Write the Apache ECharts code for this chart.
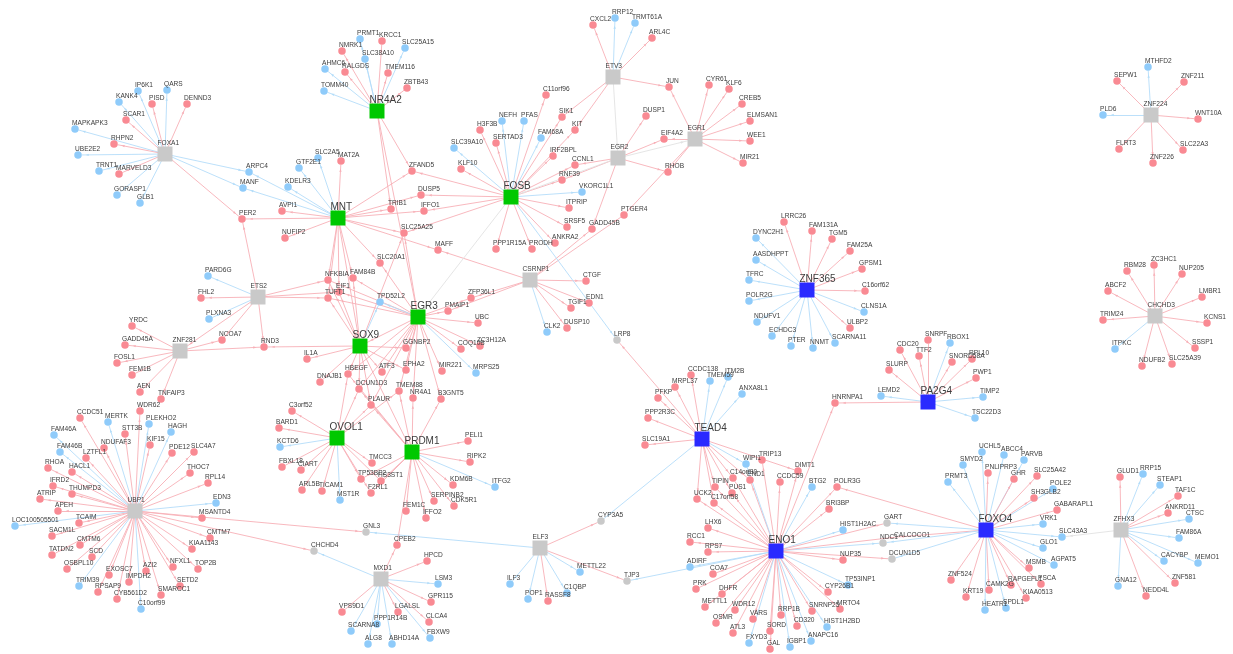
<!DOCTYPE html>
<html><head><meta charset="utf-8">
<style>html,body{margin:0;background:#fff}#c{width:1233px;height:654px;filter:blur(.4px)}</style>
<script src="https://cdn.jsdelivr.net/npm/echarts@6/dist/echarts.min.js"></script>
</head><body><div id="c"></div>
<script>
// hubs
const greenHubs=['NR4A2','MNT','FOSB','EGR3','SOX9','OVOL1','PRDM1'];
const blueHubs=['ZNF365','TEAD4','PA2G4','ENO1','FOXO4'];
const greyHubs=['FOXA1','ETV3','EGR2','EGR1','ETS2','CSRNP1','ZNF281','UBP1','MXD1','ELF3','ZFHX3','ZNF224','CHCHD3'];
const linkers=['GNL3','CHCHD4','CYP3A5','TJP3','LRP8','GART','NDC1','DCUN1D5'];
// gene targets: down = blue dot, everything else in the target lists = red dot
const downGenes=['IP6K1','QARS','KANK4','MAPKAPK3','UBE2E2','TRNT1','GORASP1','GLB1','ARPC4','MANF','SLC2A5','GTF2E1','KDELR3','PRMT1','SLC25A15','SLC38A10','AHMC6','TOMM40','TPD52L2','PARD6G','PLXNA3','NEFH','PFAS','FAM68A','SLC39A10','VKORC1L1','CLK2','RRP12','TRMT61A','MTHFD2','PLD6','DYNC2H1','AASDHPPT','TFRC','POLR2G','NDUFV1','ECHDC3','PTER','NNMT','SCARNA11','CLNS1A','ITPKC','RBOX1','TIMP2','TSC22D3','LEMD2','UCHL5','ABCC4','PARVB','SMYD2','PRMT3','POLE2','VRK1','SLC43A3','GLO1','AGPAT5','HEATR1','SPDL1','RRP15','STEAP1','CTSC','FAM86A','CACYBP','MEMO1','GNA12','TMEM59','ITM2B','ANXA8L1','WIPI1','BTG2','HIST1H2AC','ADIRF','FXYD3','IGBP1','ANAPC16','HIST1H2BD','TP53INP1','METTL22','ILF3','POP1','C1QBP','LSM3','FBXW9','ABHD14A','PPP1R14B','ALG8','SCARNA8','ITFG2','MST1R','KCTD6','MRPS25','MERTK','PLEKHO2','HAGH','FAM46A','FAM46B','EDN3','LOC100505501','TRIM39','C10orf99'];
const hiddenDot=['CALCOCO1'];
// regulon membership
const regulons={
FOXA1:['IP6K1','QARS','DENND3','PISD','KANK4','SCAR1','MAPKAPK3','RHPN2','UBE2E2','TRNT1','MARVELD3','GORASP1','GLB1','ARPC4','MANF','PER2'],
NR4A2:['PRMT1','KRCC1','NMRK1','SLC25A15','SLC38A10','AHMC6','RALGDS','TMEM116','ZBTB43','TOMM40','ZFAND5','TRIB1','EGR3'],
MNT:['ARPC4','MANF','KDELR3','GTF2E1','SLC2A5','MAT2A','AVPI1','PER2','NUFIP2','ZFAND5','TRIB1','DUSP5','IFFO1','SLC25A25','MAFF','SLC20A1','NFKBIA','FAM84B','EIF1','TUFT1','SOX9'],
FOSB:['C11orf96','SIK1','KIT','NEFH','PFAS','H3F3B','SERTAD3','FAM68A','IRF2BPL','SLC39A10','KLF10','ZFAND5','DUSP5','IFFO1','SLC25A25','VKORC1L1','ITPRIP','SRSF5','ANKRA2','PRODH','PPP1R15A','CCNL1','RNF39'],
ETV3:['CXCL2','RRP12','TRMT61A','ARL4C','JUN','SIK1','KIT'],
EGR2:['DUSP1','EIF4A2','RHOB','CCNL1','RNF39','GADD45B'],
EGR1:['JUN','CYR61','KLF6','CREB5','ELMSAN1','WEE1','MIR21','EIF4A2','RHOB','PTGER4'],
CSRNP1:['MAFF','CTGF','EDN1','TGIF1','DUSP10','CLK2','ZFP36L1','PMAIP1','GADD45B','PTGER4'],
ETS2:['PARD6G','FHL2','PLXNA3','PER2','NFKBIA','EIF1','TUFT1','RND3','NCOA7','ZNF281'],
ZNF281:['YRDC','GADD45A','FOSL1','FEM1B','AEN','TNFAIP3','NCOA7','RND3'],
EGR3:['NFKBIA','EIF1','TUFT1','FAM84B','SLC20A1','SLC25A25','TPD52L2','ZFP36L1','PMAIP1','UBC','COQ10B','ZC3H12A','MRPS25','MIR221','B3GNT5','NR4A1','EPHA2','GGNBP2','ATF3','DCUN1D3','HBEGF','PLAUR','TMEM88','SOX9'],
SOX9:['RND3','IL1A','DNAJB1','HBEGF','ATF3','GGNBP2','EPHA2','NFKBIA','TUFT1','EIF1','FAM84B','TPD52L2','SLC25A25','DCUN1D3','PLAUR','PRDM1'],
OVOL1:['C3orf52','BARD1','KCTD6','FBXL18','CIART','ARL5B','TICAM1','MST1R','TMCC3','TP53BP2','HS3ST1','F2RL1','HBEGF','DCUN1D3','PLAUR','TMEM88'],
PRDM1:['PLAUR','TMEM88','NR4A1','B3GNT5','PELI1','RIPK2','KDM6B','ITFG2','SERPINB2','CDK5R1','FEM1C','IFFO2','HS3ST1','TP53BP2','F2RL1','CPEB2','DCUN1D3','HBEGF'],
UBP1:['WDR62','CCDC51','MERTK','PLEKHO2','HAGH','STT3B','FAM46A','KIF15','NDUFAF3','FAM46B','LZTFL1','PDE12','SLC4A7','RHOA','HACL1','THOC7','RPL14','IFRD2','ATRIP','THUMPD3','EDN3','APEH','MSANTD4','TCAIM','LOC100505501','SACM1L','CMTM7','CMTM6','KIAA1143','TATDN2','SCD','OSBPL10','NFXL1','TOP2B','EXOSC7','AZI2','IMPDH2','SETD2','TRIM39','RPSAP9','SMARCC1','CYB561D2','C10orf99'],
MXD1:['CPEB2','HPCD','LSM3','GPR115','LGALSL','CLCA4','FBXW9','ABHD14A','PPP1R14B','ALG8','SCARNA8','VPS9D1'],
ELF3:['METTL22','ILF3','POP1','RASSF8','C1QBP'],
TEAD4:['SLC19A1','PPP2R3C','PFKP','MRPL37','CCDC138','TMEM59','ITM2B','ANXA8L1','WIPI1','DIMT1','C14orf80','END1','TIPIN','PUS1','UCK2','C17orf58'],
ENO1:['TRIP13','CCDC59','DIMT1','BTG2','POLR3G','HNRNPA1','BRI3BP','HIST1H2AC','NUP35','C14orf80','END1','WIPI1','PUS1','TIPIN','UCK2','C17orf58','LHX6','RCC1','RPS7','ADIRF','COA7','PRK','DHFR','METTL1','WDR12','OSMR','VARS','ATL3','RRP1B','SORD','CD320','FXYD3','GAL','IGBP1','ANAPC16','HIST1H2BD','SNRNP25','MRTO4','CYP26B1','TP53INP1'],
PA2G4:['HNRNPA1','LEMD2','SLURP','CDC20','TTF2','SNRPF','RBOX1','SNORD58A','RPL10','PWP1','TIMP2','TSC22D3'],
ZNF365:['LRRC26','FAM131A','TGM5','FAM25A','GPSM1','C16orf62','CLNS1A','ULBP2','SCARNA11','NNMT','PTER','ECHDC3','NDUFV1','POLR2G','TFRC','AASDHPPT','DYNC2H1'],
FOXO4:['UCHL5','ABCC4','PARVB','SMYD2','PRMT3','PNLIPRP3','GHR','SLC25A42','POLE2','SH3GLB2','GABARAPL1','VRK1','SLC43A3','GLO1','AGPAT5','MSMB','PSCA','RAPGEFL1','CAMK2G','ZNF524','KRT19','KIAA0513','HEATR1','SPDL1','POLR3G','CALCOCO1'],
ZFHX3:['GLUD1','RRP15','STEAP1','TAF1C','ANKRD11','CTSC','FAM86A','CACYBP','MEMO1','ZNF581','NEDD4L','GNA12'],
ZNF224:['MTHFD2','SEPW1','ZNF211','PLD6','WNT10A','FLRT3','SLC22A3','ZNF226'],
CHCHD3:['ZC3HC1','RBM28','NUP205','ABCF2','LMBR1','TRIM24','KCNS1','SSSP1','SLC25A39','NDUFB2','ITPKC']
};
// links whose sign differs from the target's dot colour: [source,target,sign]
const signedLinks=[['ETV3','EGR2',0],['EGR2','EGR1',0],['EGR2','FOSB',0],['FOSB','EGR3',0],['FOSB','LRP8',-1],['TEAD4','LRP8',1],['TEAD4','CYP3A5',-1],['ELF3','CYP3A5',1],['UBP1','GNL3',1],['ELF3','GNL3',-1],['UBP1','CHCHD4',1],['MXD1','CHCHD4',-1],['ELF3','TJP3',1],['ENO1','TJP3',-1],['ENO1','GART',1],['FOXO4','GART',-1],['ENO1','NDC1',-1],['FOXO4','NDC1',-1],['ENO1','DCUN1D5',1],['FOXO4','DCUN1D5',-1],['ZFHX3','SLC43A3',0],['ENO1','CALCOCO1',1]];
// read-off network layout, in picture coordinates
const layout={FOXA1:[165,154],IP6K1:[138,91],QARS:[167,90],DENND3:[187,104],PISD:[152,104],KANK4:[119,102],SCAR1:[126,120],MAPKAPK3:[75,129],RHPN2:[114,144],UBE2E2:[78,155],TRNT1:[99,171],MARVELD3:[119,174],GORASP1:[117,195],GLB1:[140,203],ARPC4:[249,172],MANF:[243,188],PER2:[242,219],MNT:[338,218],NR4A2:[377,111],PRMT1:[360,39],KRCC1:[382,41],NMRK1:[342,51],SLC25A15:[405,48],SLC38A10:[365,59],AHMC6:[325,69],RALGDS:[345,72],TMEM116:[388,73],ZBTB43:[407,88],TOMM40:[324,91],ZFAND5:[412,171],SLC2A5:[318,158],MAT2A:[341,161],GTF2E1:[299,168],KDELR3:[288,187],AVPI1:[282,211],TRIB1:[391,209],NUFIP2:[285,238],SLC25A25:[404,233],SLC20A1:[380,263],NFKBIA:[328,280],FAM84B:[353,278],EIF1:[339,292],TUFT1:[328,298],TPD52L2:[380,302],ETS2:[258,297],PARD6G:[208,276],FHL2:[201,298],PLXNA3:[209,319],YRDC:[132,326],EGR3:[418,317],FOSB:[511,197],ETV3:[613,77],CXCL2:[593,25],RRP12:[615,18],TRMT61A:[635,23],ARL4C:[652,38],JUN:[669,87],CYR61:[709,85],KLF6:[729,89],CREB5:[742,104],ELMSAN1:[750,121],WEE1:[750,141],MIR21:[743,163],EGR1:[695,139],EGR2:[618,158],DUSP1:[646,116],EIF4A2:[664,139],RHOB:[668,172],CCNL1:[575,165],RNF39:[562,180],C11orf96:[546,95],SIK1:[562,117],KIT:[575,130],NEFH:[502,121],PFAS:[524,121],H3F3B:[480,130],SERTAD3:[496,143],FAM68A:[541,138],IRF2BPL:[553,156],SLC39A10:[454,148],KLF10:[461,169],DUSP5:[421,195],IFFO1:[424,211],VKORC1L1:[582,192],ITPRIP:[569,208],SRSF5:[567,227],GADD45B:[592,229],PTGER4:[624,215],ANKRA2:[555,243],PRODH:[532,249],PPP1R15A:[496,249],MAFF:[438,250],CSRNP1:[530,280],CTGF:[586,281],EDN1:[589,303],TGIF1:[571,308],DUSP10:[567,328],CLK2:[547,332],LRP8:[617,340],ZFP36L1:[471,298],PMAIP1:[448,311],UBC:[478,323],ZNF224:[1151,115],MTHFD2:[1148,67],SEPW1:[1117,81],ZNF211:[1184,82],PLD6:[1103,115],WNT10A:[1198,119],FLRT3:[1119,149],SLC22A3:[1183,150],ZNF226:[1153,163],CHCHD3:[1155,316],ZC3HC1:[1154,265],RBM28:[1127,271],NUP205:[1182,274],ABCF2:[1108,291],LMBR1:[1202,297],TRIM24:[1103,320],KCNS1:[1207,323],FAM131A:[812,231],TGM5:[832,239],FAM25A:[850,251],GPSM1:[862,269],C16orf62:[865,291],CLNS1A:[864,312],ULBP2:[850,328],ZNF365:[807,290],LRRC26:[784,222],DYNC2H1:[756,238],AASDHPPT:[756,260],TFRC:[749,280],POLR2G:[749,301],NDUFV1:[757,322],ECHDC3:[772,336],PTER:[791,346],NNMT:[813,348],SCARNA11:[835,343],ITPKC:[1115,349],NDUFB2:[1142,366],SLC25A39:[1172,364],SSSP1:[1195,348],PA2G4:[928,402],SNRPF:[928,340],RBOX1:[950,343],CDC20:[900,350],TTF2:[919,356],SNORD58A:[952,362],RPL10:[972,359],PWP1:[976,378],TIMP2:[983,397],TSC22D3:[975,418],FOXO4:[986,530],UCHL5:[982,452],ABCC4:[1004,455],PARVB:[1024,460],SMYD2:[963,465],PRMT3:[948,482],PNLIPRP3:[988,473],GHR:[1014,479],SLC25A42:[1037,476],POLE2:[1053,489],SH3GLB2:[1034,498],GABARAPL1:[1057,510],VRK1:[1043,524],SLC43A3:[1062,537],GLO1:[1043,548],AGPAT5:[1054,565],MSMB:[1029,568],PSCA:[1041,584],RAPGEFL1:[1011,585],CAMK2G:[989,590],ZNF524:[951,580],KRT19:[966,597],KIAA0513:[1026,598],HEATR1:[985,610],SPDL1:[1006,608],ZFHX3:[1121,530],GLUD1:[1120,477],RRP15:[1143,474],STEAP1:[1160,485],TAF1C:[1178,496],ANKRD11:[1168,513],CTSC:[1189,519],FAM86A:[1179,538],CACYBP:[1164,561],MEMO1:[1198,563],ZNF581:[1175,583],NEDD4L:[1146,596],GNA12:[1118,586],TEAD4:[702,439],SLC19A1:[645,445],PPP2R3C:[648,418],PFKP:[658,398],MRPL37:[675,387],CCDC138:[691,375],TMEM59:[710,381],ITM2B:[728,377],ANXA8L1:[742,394],WIPI1:[746,464],TRIP13:[762,460],DIMT1:[798,471],CCDC59:[780,482],C14orf80:[733,478],END1:[750,480],TIPIN:[715,487],PUS1:[732,493],UCK2:[697,499],C17orf58:[714,503],BTG2:[812,487],POLR3G:[837,487],HNRNPA1:[835,403],LEMD2:[881,396],SLURP:[889,370],BRI3BP:[829,509],GART:[887,523],HIST1H2AC:[843,530],NDC1:[883,543],CALCOCO1:[897,537],NUP35:[843,560],DCUN1D5:[892,559],ENO1:[776,551],LHX6:[708,528],RCC1:[690,542],RPS7:[708,552],ADIRF:[690,567],COA7:[713,574],PRK:[696,589],DHFR:[722,594],METTL1:[705,607],WDR12:[735,610],OSMR:[716,623],VARS:[753,619],ATL3:[733,633],RRP1B:[781,615],SORD:[770,631],CD320:[797,626],FXYD3:[749,643],GAL:[770,649],IGBP1:[790,647],ANAPC16:[811,641],HIST1H2BD:[827,627],SNRNP25:[812,611],MRTO4:[840,609],CYP26B1:[828,592],TP53INP1:[848,585],GNL3:[366,532],CHCHD4:[314,551],ELF3:[540,548],CYP3A5:[601,521],METTL22:[580,572],TJP3:[627,581],ILF3:[510,584],POP1:[528,599],RASSF8:[548,601],C1QBP:[567,593],MXD1:[381,579],CPEB2:[397,545],HPCD:[427,561],LSM3:[438,584],GPR115:[431,602],LGALSL:[398,612],CLCA4:[429,622],PPP1R14B:[377,624],VPS9D1:[342,612],SCARNA8:[351,631],ALG8:[368,644],ABHD14A:[392,644],FBXW9:[430,638],FEM1C:[406,511],IFFO2:[426,518],SERPINB2:[434,501],CDK5R1:[454,506],ITFG2:[495,487],MST1R:[340,500],SOX9:[360,346],IL1A:[307,359],RND3:[264,347],DNAJB1:[320,382],HBEGF:[348,374],ATF3:[382,372],GGNBP2:[406,348],EPHA2:[406,370],MIR221:[442,371],MRPS25:[476,373],COQ10B:[461,349],ZC3H12A:[480,346],DCUN1D3:[359,389],TMEM88:[399,391],NR4A1:[413,398],B3GNT5:[441,399],PLAUR:[371,405],C3orf52:[292,411],BARD1:[279,428],OVOL1:[337,438],KCTD6:[280,447],FBXL18:[282,467],CIART:[301,470],ARL5B:[302,490],TICAM1:[322,491],TMCC3:[372,463],TP53BP2:[361,479],HS3ST1:[381,481],F2RL1:[371,493],PRDM1:[412,452],PELI1:[468,441],RIPK2:[470,462],KDM6B:[453,485],ZNF281:[180,351],NCOA7:[222,340],GADD45A:[125,345],FOSL1:[117,363],FEM1B:[132,375],AEN:[140,392],TNFAIP3:[161,399],WDR62:[140,411],CCDC51:[80,418],MERTK:[108,422],PLEKHO2:[149,424],HAGH:[171,432],STT3B:[125,434],FAM46A:[54,435],KIF15:[150,445],NDUFAF3:[104,448],FAM46B:[60,452],LZTFL1:[86,458],PDE12:[172,453],SLC4A7:[194,452],RHOA:[48,468],HACL1:[72,472],THOC7:[190,473],RPL14:[208,483],IFRD2:[53,486],ATRIP:[40,499],THUMPD3:[72,494],UBP1:[135,511],EDN3:[216,503],APEH:[58,511],MSANTD4:[202,518],TCAIM:[79,523],LOC100505501:[15,526],SACM1L:[52,536],CMTM7:[210,538],CMTM6:[80,545],KIAA1143:[192,549],TATDN2:[52,555],SCD:[92,557],OSBPL10:[67,569],NFXL1:[173,567],TOP2B:[198,569],EXOSC7:[109,575],AZI2:[146,571],IMPDH2:[129,582],SETD2:[180,586],TRIM39:[79,586],RPSAP9:[98,592],SMARCC1:[161,595],CYB561D2:[117,599],C10orf99:[141,609]};

const RED='#F98A93',BLUE='#8FCBFA',GREY='#C9C9C9',EDGE_RED='#F7B0B7',EDGE_BLUE='#B4DDF9',EDGE_GREY='#E2E2E2';
const hubSet=new Set([...greenHubs,...blueHubs,...greyHubs]);
const downSet=new Set(downGenes);
const nodes=Object.keys(layout).map(name=>{
  const hub=hubSet.has(name),big=greenHubs.includes(name)||blueHubs.includes(name);
  let color=RED,size=7.5;
  if(greenHubs.includes(name))color='#00C800';
  else if(blueHubs.includes(name))color='#2A2AFF';
  else if(hub||linkers.includes(name))color=GREY;
  else if(downSet.has(name))color=BLUE;
  if(hub)size=15;
  if(hiddenDot.includes(name))size=0.1;
  return {name,value:layout[name],symbol:hub?'rect':'circle',symbolSize:size,
    itemStyle:{color},
    label:{show:true,position:'top',align:'left',distance:hub?1:0,offset:[hub?-7.5:-3,big?2.5:(hub?1:1.5)],
      fontSize:big?10:6.6,color:'#3c3c3c',fontFamily:'Liberation Sans, Arial, sans-serif'}};
});
const links=[];
for(const hub in regulons){
  for(const t of regulons[hub]){
    const c=hubSet.has(t)?EDGE_RED:(downSet.has(t)?EDGE_BLUE:EDGE_RED);
    links.push({source:hub,target:t,lineStyle:{color:c}});
  }
}
for(const [s,t,sign] of signedLinks){
  links.push({source:s,target:t,lineStyle:{color:sign>0?EDGE_RED:sign<0?EDGE_BLUE:EDGE_GREY}});
}
const arrow='path://M0,0Z M16,16Z M8,12 L9.2,15 L6.8,15 Z';
const chart=echarts.init(document.getElementById('c'),null,{renderer:'canvas'});
chart.setOption({
  backgroundColor:'#fff',animation:false,
  grid:{left:0,right:0,top:0,bottom:0},
  xAxis:{type:'value',min:0,max:1233,show:false},
  yAxis:{type:'value',min:0,max:654,inverse:true,show:false},
  series:[{type:'graph',layout:'none',coordinateSystem:'cartesian2d',
    data:nodes,links,silent:true,
    edgeSymbol:['none',arrow],edgeSymbolSize:16,
    lineStyle:{width:0.9,opacity:1}}]
});
</script></body></html>
